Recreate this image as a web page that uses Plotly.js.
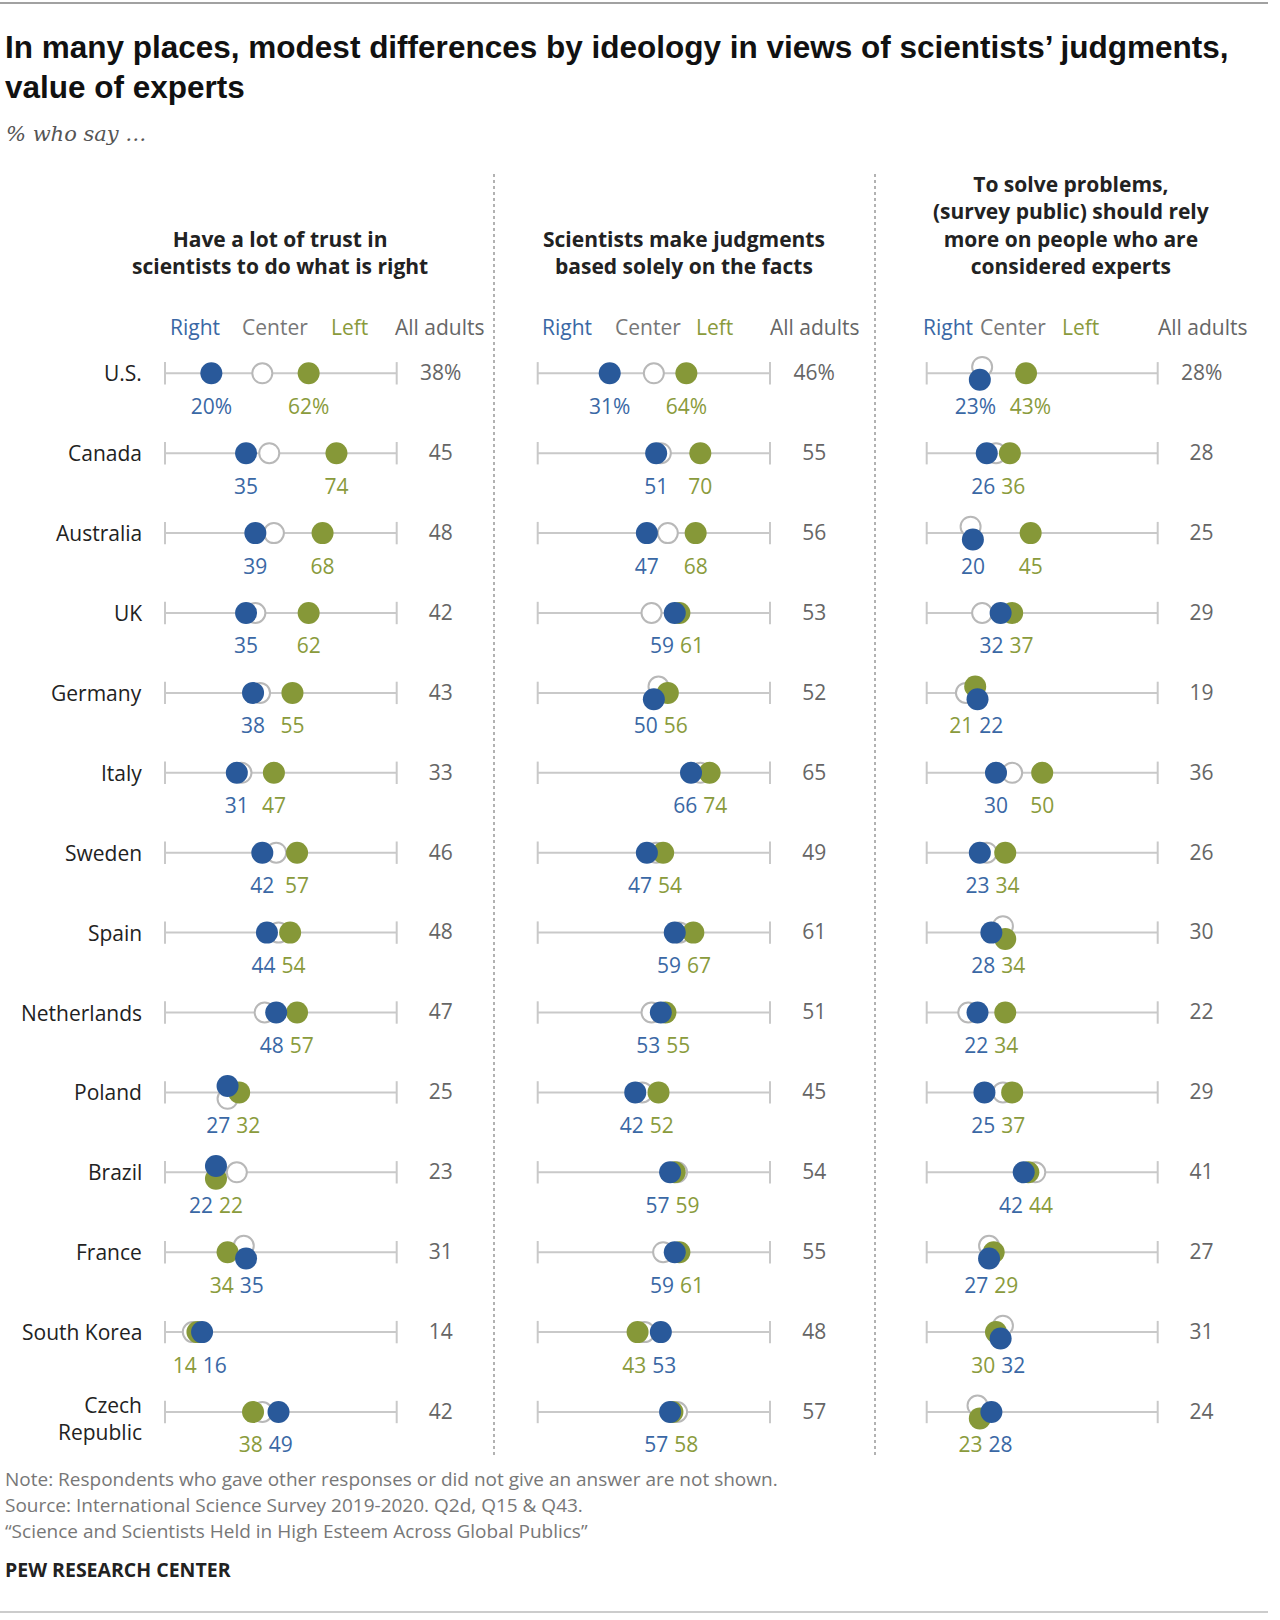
<!DOCTYPE html>
<html>
<head>
<meta charset="utf-8">
<script src="https://cdn.plot.ly/plotly-3.0.1.min.js"></script>
<style>
  body { margin: 0; background: #fff; }
  #chart { width: 1280px; height: 1620px; }
</style>
</head>
<body>
<div id="chart"></div>
<script>
// rows, top to bottom
const countries = ['U.S.', 'Canada', 'Australia', 'UK', 'Germany', 'Italy', 'Sweden', 'Spain',
  'Netherlands', 'Poland', 'Brazil', 'France', 'South Korea', 'Czech Republic'];

// Have a lot of trust in scientists to do what is right
const trustRight  = [20, 35, 39, 35, 38, 31, 42, 44, 48, 27, 22, 35, 16, 49];
const trustCenter = [42, 45, 47, 39, 41, 33, 48, 49, 43, 27, 31, 34, 12, 42];
const trustLeft   = [62, 74, 68, 62, 55, 47, 57, 54, 57, 32, 22, 27, 14, 38];
const trustAll    = [38, 45, 48, 42, 43, 33, 46, 48, 47, 25, 23, 31, 14, 42];

// Scientists make judgments based solely on the facts
const factsRight  = [31, 51, 47, 59, 50, 66, 47, 59, 53, 42, 57, 59, 53, 57];
const factsCenter = [50, 53, 56, 49, 52, 70, 51, 61, 49, 45, 60, 54, 46, 60];
const factsLeft   = [64, 70, 68, 61, 56, 74, 54, 67, 55, 52, 59, 61, 43, 58];
const factsAll    = [46, 55, 56, 53, 52, 65, 49, 61, 51, 45, 54, 55, 48, 57];

// Should rely more on people who are considered experts
const expertsRight  = [23, 26, 20, 32, 22, 30, 23, 28, 22, 25, 42, 27, 32, 28];
const expertsCenter = [24, 30, 19, 24, 17, 37, 26, 33, 18, 33, 47, 27, 33, 22];
const expertsLeft   = [43, 36, 45, 37, 21, 50, 34, 34, 34, 37, 44, 29, 30, 23];
const expertsAll    = [28, 28, 25, 29, 19, 36, 26, 30, 22, 29, 41, 27, 31, 24];

// the printed label differs from where the dot is drawn in the original
const labelFix = { 'trust-left-France': '34' };

const W = 1280, H = 1620;
const ROW0 = 373.3, ROWSTEP = 79.9;
const FONT = 'Open Sans, Arial, sans-serif';
const BLUE = '#29599a', GREEN = '#869838';
const BLUE_TXT = '#3a68a5', GREEN_TXT = '#8a9b3c';
const GRAY_TXT = '#666666';

// which dots get pushed up (-1) or down (+1) where they sit on top of each other
const nudges = [
  { 'Poland': {right: -1, center: 1}, 'Brazil': {right: -1, left: 1}, 'France': {center: -1, right: 1} },
  { 'Germany': {center: -1, right: 1} },
  { 'U.S.': {center: -1, right: 1}, 'Australia': {center: -1, right: 1}, 'Germany': {left: -1, right: 1},
    'Spain': {center: -1, left: 1}, 'France': {center: -1, right: 1}, 'South Korea': {center: -1, right: 1},
    'Czech Republic': {center: -1, left: 1} }
];
const NUDGE_Y = 0.08;

const panels = [
  { key: 'trust', right: trustRight, center: trustCenter, left: trustLeft, all: trustAll,
    ax: 'x', px0: 165, px100: 396.7, dom: [150, 480] },
  { key: 'facts', right: factsRight, center: factsCenter, left: factsLeft, all: factsAll,
    ax: 'x2', px0: 537.7, px100: 770, dom: [500, 860] },
  { key: 'experts', right: expertsRight, center: expertsCenter, left: expertsLeft, all: expertsAll,
    ax: 'x3', px0: 926.7, px100: 1157.7, dom: [890, 1265] }
];

function fmt(v, i) { return i === 0 ? v + '%' : String(v); }
function textW(t) { return t.replace('%', '').length * 12 + (t.includes('%') ? 17 : 0); }

let data = [];
let layout = {
  width: W, height: H,
  margin: {l: 0, r: 0, t: 0, b: 0},
  paper_bgcolor: '#fff', plot_bgcolor: 'rgba(0,0,0,0)',
  showlegend: false,
  yaxis: { domain: [0, 1], range: [(H - ROW0) / ROWSTEP, -ROW0 / ROWSTEP], visible: false, fixedrange: true },
  annotations: [],
  shapes: []
};

panels.forEach((p, pi) => {
  const ppu = (p.px100 - p.px0) / 100;
  const axName = p.ax === 'x' ? 'xaxis' : 'xaxis' + p.ax.slice(1);
  layout[axName] = {
    domain: [p.dom[0] / W, p.dom[1] / W],
    range: [(p.dom[0] - p.px0) / ppu, (p.dom[1] - p.px0) / ppu],
    anchor: 'y', visible: false, fixedrange: true
  };

  // track lines with end ticks
  let lx = [], ly = [];
  countries.forEach((c, i) => { lx.push(0, 100, null); ly.push(i, i, null); });
  data.push({
    x: lx, y: ly, xaxis: p.ax, yaxis: 'y', type: 'scatter', mode: 'lines+markers',
    line: {color: '#c9c9c9', width: 2},
    marker: {symbol: 'line-ns-open', size: 16, line: {color: '#bdbdbd', width: 2}},
    hoverinfo: 'skip'
  });

  const yOf = (grp) => countries.map((c, i) => i + ((nudges[pi][c] || {})[grp] || 0) * NUDGE_Y);

  data.push({
    x: p.center, y: yOf('center'), xaxis: p.ax, yaxis: 'y', type: 'scatter', mode: 'markers',
    marker: {size: 20, color: '#ffffff', line: {color: '#b8b8b8', width: 2}}, hoverinfo: 'skip'
  });
  data.push({
    x: p.left, y: yOf('left'), xaxis: p.ax, yaxis: 'y', type: 'scatter', mode: 'markers',
    marker: {size: 22, color: GREEN, line: {width: 0}}, hoverinfo: 'skip'
  });
  data.push({
    x: p.right, y: yOf('right'), xaxis: p.ax, yaxis: 'y', type: 'scatter', mode: 'markers',
    marker: {size: 22, color: BLUE, line: {width: 0}}, hoverinfo: 'skip'
  });

  // value labels under the dots, spread apart when they would touch
  let rx = [], lxl = [], rt = [], lt = [], yl = [];
  countries.forEach((c, i) => {
    const tr = fmt(p.right[i], i);
    const tl = labelFix[p.key + '-left-' + c] || fmt(p.left[i], i);
    let a = p.right[i] * ppu, b = p.left[i] * ppu;
    const need = (textW(tr) + textW(tl)) / 2 + (i === 0 ? 14 : 6);
    if (Math.abs(a - b) < need) {
      const mid = (a + b) / 2;
      if (p.right[i] <= p.left[i]) { a = mid - need / 2; b = mid + need / 2; }
      else { a = mid + need / 2; b = mid - need / 2; }
    }
    rx.push(a / ppu); lxl.push(b / ppu); rt.push(tr); lt.push(tl); yl.push(i + 0.44);
  });
  data.push({
    x: rx, y: yl, text: rt, xaxis: p.ax, yaxis: 'y', type: 'scatter', mode: 'text',
    textposition: 'middle center', textfont: {family: FONT, size: 21, color: BLUE_TXT},
    cliponaxis: false, hoverinfo: 'skip'
  });
  data.push({
    x: lxl, y: yl, text: lt, xaxis: p.ax, yaxis: 'y', type: 'scatter', mode: 'text',
    textposition: 'middle center', textfont: {family: FONT, size: 21, color: GREEN_TXT},
    cliponaxis: false, hoverinfo: 'skip'
  });

  // all adults column
  data.push({
    x: countries.map(() => 119), y: countries.map((c, i) => i + 0.02),
    text: p.all.map((v, i) => fmt(v, i)), xaxis: p.ax, yaxis: 'y', type: 'scatter', mode: 'text',
    textposition: 'middle center', textfont: {family: FONT, size: 21, color: GRAY_TXT},
    cliponaxis: false, hoverinfo: 'skip'
  });
});

function ann(text, x, y, o) {
  o = o || {};
  layout.annotations.push({
    text: text, xref: 'paper', yref: o.yref || 'paper',
    x: x / W, y: o.yref ? y : 1 - y / H,
    xanchor: o.xanchor || 'center', yanchor: o.yanchor || 'middle', align: o.align || 'center',
    showarrow: false,
    font: {family: o.family || FONT, size: o.size || 21, color: o.color || '#333'}
  });
}

// country names
countries.forEach((c, i) => {
  const two = c === 'Czech Republic';
  ann(two ? 'Czech<br>Republic' : c, 144, two ? i + 0.08 : i,
    {yref: 'y', xanchor: 'right', align: 'right', color: '#222'});
});

// titles
ann('<b>In many places, modest differences by ideology in views of scientists\u2019 judgments,</b>', 3, 47,
  {xanchor: 'left', align: 'left', size: 31.5, color: '#111', family: 'Liberation Sans, Arial, sans-serif'});
ann('<b>value of experts</b>', 3, 87,
  {xanchor: 'left', align: 'left', size: 31.5, color: '#111', family: 'Liberation Sans, Arial, sans-serif'});
ann('<i>% who say \u2026</i>', 4, 134,
  {xanchor: 'left', align: 'left', size: 21, color: '#555', family: 'DejaVu Serif, serif'});

// panel headings
ann('<b>Have a lot of trust in<br>scientists to do what is right</b>', 280, 282, {yanchor: 'bottom', size: 21, color: '#222'});
ann('<b>Scientists make judgments<br>based solely on the facts</b>', 684, 282, {yanchor: 'bottom', size: 21, color: '#222'});
ann('<b>To solve problems,<br>(survey public) should rely<br>more on people who are<br>considered experts</b>', 1071, 282,
  {yanchor: 'bottom', size: 21, color: '#222'});

// column keys
const keyX = [[195, 275, 349, 440], [567, 648, 714, 815], [948, 1013, 1080, 1203]];
keyX.forEach(k => {
  ann('Right', k[0], 327, {color: BLUE_TXT});
  ann('Center', k[1], 327, {color: '#777'});
  ann('Left', k[2], 327, {color: GREEN_TXT});
  ann('All adults', k[3], 327, {color: GRAY_TXT});
});

// notes
ann('Note: Respondents who gave other responses or did not give an answer are not shown.', 3, 1479,
  {xanchor: 'left', align: 'left', size: 19, color: '#777'});
ann('Source: International Science Survey 2019-2020. Q2d, Q15 & Q43.', 3, 1505,
  {xanchor: 'left', align: 'left', size: 19, color: '#777'});
ann('\u201cScience and Scientists Held in High Esteem Across Global Publics\u201d', 3, 1531,
  {xanchor: 'left', align: 'left', size: 19, color: '#777'});
ann('<b>PEW RESEARCH CENTER</b>', 3, 1569, {xanchor: 'left', align: 'left', size: 19.5, color: '#222'});

// rules and separators
function pline(x0, y0, x1, y1, line) {
  layout.shapes.push({type: 'line', xref: 'paper', yref: 'paper',
    x0: x0 / W, x1: x1 / W, y0: 1 - y0 / H, y1: 1 - y1 / H, line: line});
}
pline(0, 3, 1268, 3, {color: '#444', width: 1.2});
pline(0, 1612, 1268, 1612, {color: '#999', width: 1.2});
pline(494, 174, 494, 1455, {color: '#999', width: 1.5, dash: 'dot'});
pline(875, 174, 875, 1455, {color: '#999', width: 1.5, dash: 'dot'});

Plotly.newPlot('chart', data, layout, {staticPlot: true, displayModeBar: false});
</script>
</body>
</html>
